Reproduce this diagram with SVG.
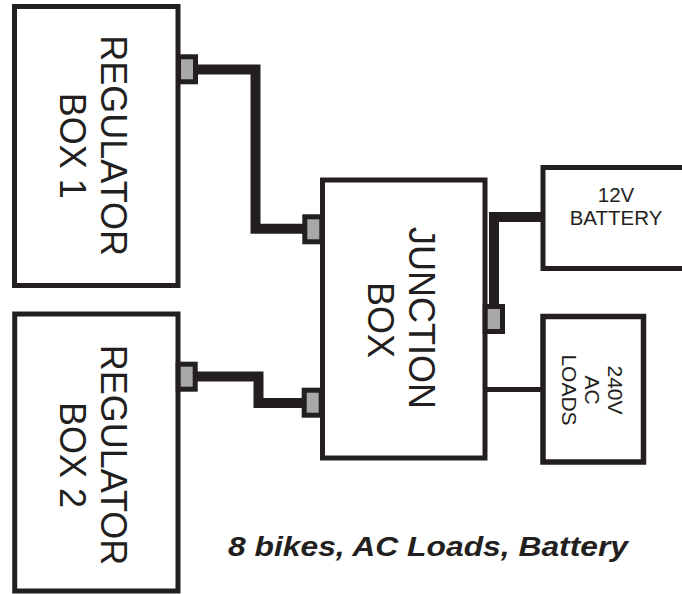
<svg xmlns="http://www.w3.org/2000/svg" width="682" height="594" viewBox="0 0 682 594">
<style>
.box{fill:#fff;stroke:#231f20;stroke-width:5}
.wire{fill:none;stroke:#231f20;stroke-width:10;stroke-linejoin:miter;stroke-linecap:butt}
.thin{fill:none;stroke:#231f20;stroke-width:5}
.port{fill:#a8a8a8;stroke:#231f20;stroke-width:5}
.lbl{font-family:"Liberation Sans",Arial,sans-serif;fill:#231f20;text-anchor:middle}
.cap{font-family:"Liberation Sans",Arial,sans-serif;fill:#231f20;font-weight:bold;font-style:italic}
</style>
<rect width="682" height="594" fill="#fff"/>
<g id="regulator-box-1">
<rect class="box" x="14.5" y="6.5" width="163.5" height="279"/>
<g transform="translate(100.7,145.7) rotate(90)">
<text class="lbl" font-size="36" x="0" y="0">REGULATOR</text>
<text class="lbl" font-size="36" x="0" y="40.7">BOX 1</text>
</g>
</g>
<g id="regulator-box-2">
<rect class="box" x="14.7" y="314" width="163.3" height="277"/>
<g transform="translate(100.7,455) rotate(90)">
<text class="lbl" font-size="36" x="0" y="0">REGULATOR</text>
<text class="lbl" font-size="36" x="0" y="40.7">BOX 2</text>
</g>
</g>
<g id="junction-box">
<rect class="box" x="322.5" y="180" width="162.5" height="278"/>
<g transform="translate(409.3,318) rotate(90)">
<text class="lbl" font-size="36" x="0" y="0">JUNCTION</text>
<text class="lbl" font-size="36" x="2" y="41">BOX</text>
</g>
</g>
<g id="battery">
<rect class="box" x="543" y="167.5" width="160" height="101"/>
<text class="lbl" font-size="20.5" x="616" y="202.3">12V</text>
<text class="lbl" font-size="20.5" x="616" y="225">BATTERY</text>
</g>
<g id="ac-loads">
<rect class="box" x="543" y="316.5" width="100.5" height="145.5" style="stroke-width:5.5"/>
<g transform="translate(608.3,390) rotate(90)">
<text class="lbl" font-size="21" x="0" y="0">240V</text>
<text class="lbl" font-size="21" x="0" y="23.3">AC</text>
<text class="lbl" font-size="21" x="0" y="46.6">LOADS</text>
</g>
</g>
<g id="connectors">
<path class="wire" d="M197 69.5 H255.5 V228.7 H303"/>
<path class="wire" d="M197 376.5 H258.5 V403 H303"/>
<path class="wire" d="M494 306 V217 H541"/>
<path class="thin" d="M487 389.5 H541"/>
<rect class="port" x="178.5" y="56.8" width="17" height="25"/>
<rect class="port" x="304.8" y="216.8" width="17" height="25"/>
<rect class="port" x="304.2" y="390.2" width="17" height="25"/>
<rect class="port" x="178.2" y="364.2" width="17" height="25"/>
<rect class="port" x="485.2" y="306.5" width="17.3" height="25"/>
</g>
<g id="caption">
<text class="cap" font-size="28" x="228" y="555.5" textLength="400" lengthAdjust="spacingAndGlyphs">8 bikes, AC Loads, Battery</text>
</g>
</svg>
